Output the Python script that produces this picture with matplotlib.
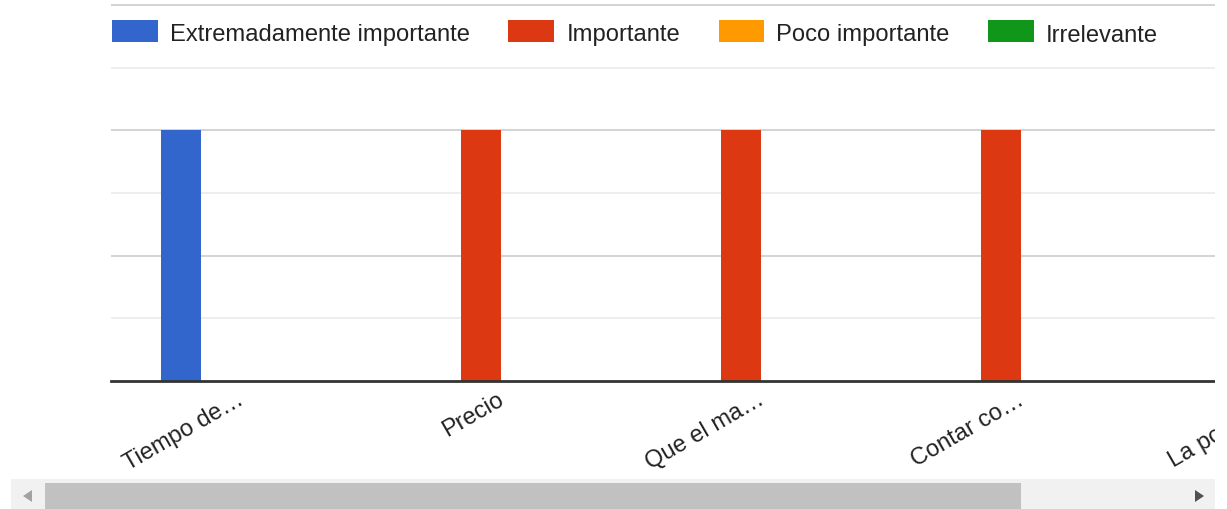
import numpy as np
import matplotlib
matplotlib.use("Agg")
import matplotlib.pyplot as plt
import matplotlib.transforms as mtransforms
from matplotlib.patches import Rectangle, Polygon

# ---- data -------------------------------------------------------------
categories = ["Tiempo de…", "Precio", "Que el ma…", "Contar co…", "La posibili…"]
series_names = ["Extremadamente importante", "Importante", "Poco importante", "Irrelevante"]
series_colors = ["#3366cc", "#dc3912", "#ff9900", "#109618"]
extremadamente = [1, 0, 0, 0, 0]
importante = [0, 1, 1, 1, 1]
poco = [0, 0, 0, 0, 0]
irrelevante = [0, 0, 0, 0, 0]
series_values = [extremadamente, importante, poco, irrelevante]

W, H = 1227, 510
plt.rcParams["font.family"] = ["Liberation Sans", "DejaVu Sans"]

fig = plt.figure(figsize=(W / 100, H / 100), dpi=100)
fig.patch.set_facecolor("white")

# plot area (wider than the visible viewport; the rest sits behind the scroll view)
left_px, base_px = 111, 381.5
unit_x = 260.0
unit_y = 250.0
x_lo, x_hi = -0.5, 4.6
y_hi = 1.52
ax = fig.add_axes([left_px / W, (H - base_px) / H,
                   (x_hi - x_lo) * unit_x / W, y_hi * unit_y / H])
ax.set_xlim(x_lo, x_hi)
ax.set_ylim(0, y_hi)

# grouped bars
bar_w = 40 / unit_x
x = np.arange(len(categories))
n_series = len(series_names)
for i, (vals, color) in enumerate(zip(series_values, series_colors)):
    ax.bar(x + (i - (n_series - 1) / 2) * bar_w, vals, width=bar_w,
           color=color, linewidth=0, zorder=2)

# gridlines
ax.set_yticks([0.5, 1.0, 1.5])
ax.set_yticks([0.25, 0.75, 1.25], minor=True)
ax.grid(axis="y", which="major", color="#cccccc", linewidth=1.2, zorder=0)
ax.grid(axis="y", which="minor", color="#ebebeb", linewidth=1.2, zorder=0)
ax.set_axisbelow(True)
ax.tick_params(axis="y", which="both", length=0, labelleft=False)

for side in ("top", "left", "right"):
    ax.spines[side].set_visible(False)
ax.spines["bottom"].set_color("#333333")
ax.spines["bottom"].set_linewidth(2.0)
ax.spines["bottom"].set_zorder(3)

# category labels, slanted
ax.set_xticks(x, categories)
ax.tick_params(axis="x", length=0, pad=0, labelsize=17, labelcolor="#222222")
offset = mtransforms.ScaledTranslation(4 / 100, -22 / 100, fig.dpi_scale_trans)
for lbl in ax.get_xticklabels():
    lbl.set_rotation(30)
    lbl.set_horizontalalignment("right")
    lbl.set_verticalalignment("baseline")
    lbl.set_rotation_mode("anchor")
    lbl.set_transform(lbl.get_transform() + offset)

# legend row
renderer = fig.canvas.get_renderer()
lx = 112
for name, color in zip(series_names, series_colors):
    fig.add_artist(Rectangle((lx / W, 1 - 43 / H), 46 / W, 22 / H,
                             transform=fig.transFigure, facecolor=color,
                             edgecolor="none", zorder=5))
    t = fig.text((lx + 58) / W, 1 - 41.5 / H, name, fontsize=17.1,
                 color="#222222", va="baseline", ha="left", zorder=5)
    bb = t.get_window_extent(renderer)
    lx = bb.x1 + 38.5

# viewport edge on the right
fig.add_artist(Rectangle((1215 / W, 0), 1, 1, transform=fig.transFigure,
                         facecolor="white", edgecolor="none", zorder=10))

# horizontal scrollbar
def fig_px(px, py):
    return (px / W, 1 - py / H)

fig.add_artist(Rectangle(fig_px(11, 510), (1215 - 11) / W, 30 / H,
                         transform=fig.transFigure, facecolor="#f1f1f1",
                         edgecolor="none", zorder=11))
fig.add_artist(Rectangle(fig_px(45, 510), (1021 - 45) / W, 26 / H,
                         transform=fig.transFigure, facecolor="#c1c1c1",
                         edgecolor="none", zorder=12))
fig.add_artist(Polygon([fig_px(23, 497), fig_px(32, 491), fig_px(32, 503)],
                       closed=True, transform=fig.transFigure,
                       facecolor="#a3a3a3", edgecolor="none", zorder=12))
fig.add_artist(Polygon([fig_px(1204, 497), fig_px(1195, 491), fig_px(1195, 503)],
                       closed=True, transform=fig.transFigure,
                       facecolor="#505050", edgecolor="none", zorder=12))

fig.savefig("out.png", dpi=100, facecolor="white")
